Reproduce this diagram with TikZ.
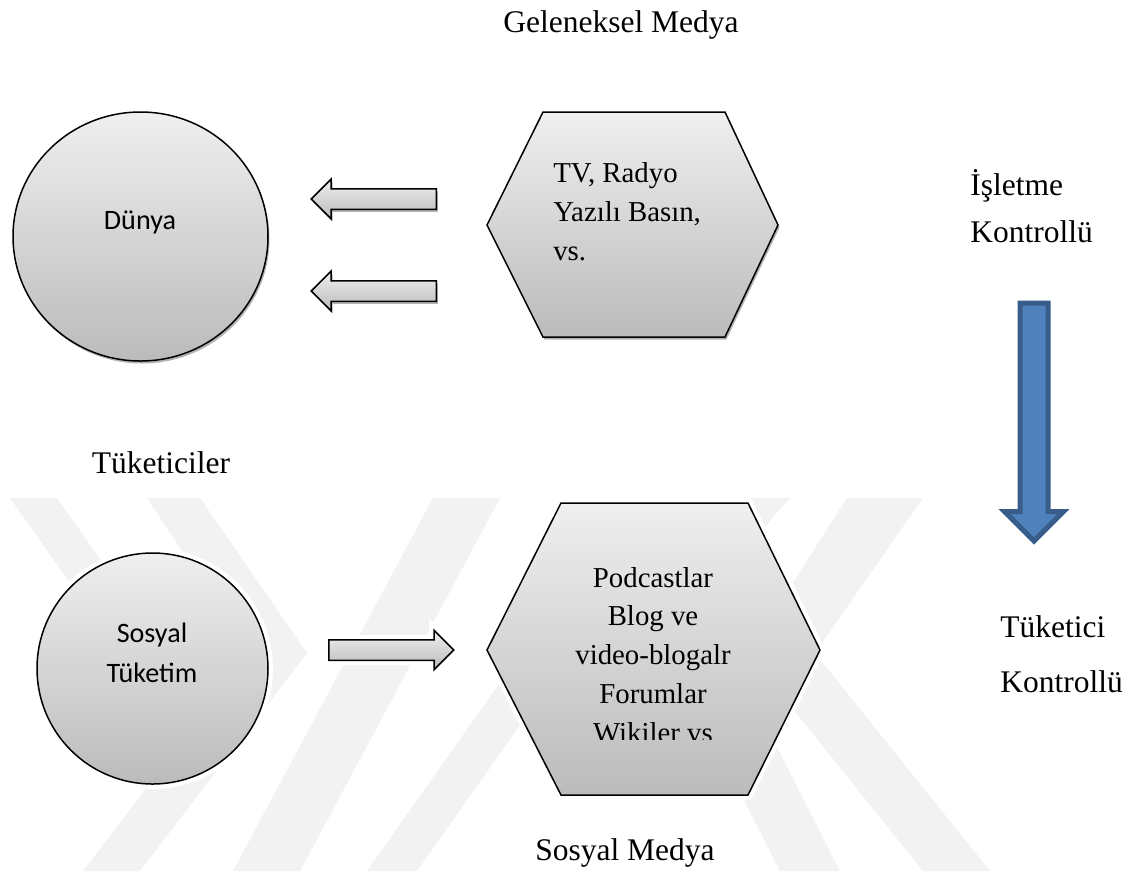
\documentclass[tikz,border=0pt]{standalone}
\usepackage{fontspec}
\setmainfont{Liberation Serif}
\newfontfamily\calibrifont{Carlito}
\usetikzlibrary{shapes.geometric,shapes.arrows,shadows}
\definecolor{shadeTop}{HTML}{EFEFEF}
\definecolor{shadeBot}{HTML}{BBBBBB}
\definecolor{msBlue}{HTML}{4F81BD}
\definecolor{msBlueDark}{HTML}{385D8A}
\newlength\px
\setlength\px{0.025cm}

\begin{document}
\begin{tikzpicture}[x=0.025cm,y=-0.025cm,
  gshade/.style={top color=shadeTop,bottom color=shadeBot},
  softshadow/.style={drop shadow={shadow xshift=1.5\px,shadow yshift=-2.5\px,opacity=0.3,fill=black}},
  halo/.style={preaction={draw=white,line width=10\px}},
  orb/.style={ellipse,draw,line width=1.5\px,gshade,softshadow,inner sep=0pt},
  hexa/.style={draw,line width=1.5\px,gshade,softshadow,line join=miter},
  grayarrow/.style={single arrow,draw,line width=1.5\px,gshade,softshadow,inner xsep=0pt,inner ysep=9.5\px,
    single arrow head extend=9.5\px,single arrow tip angle=90,single arrow head indent=0pt,minimum height=125\px,anchor=tail},
  bluearrow/.style={single arrow,draw=msBlueDark,fill=msBlue,line width=5\px,inner xsep=11.5\px,inner ysep=0pt,
    single arrow head extend=15.5\px,single arrow tip angle=90,single arrow head indent=0pt,minimum height=238\px,
    shape border rotate=270,anchor=tail},
  wm/.style={fill=black!5,draw=none},
  headtext/.style={font=\fontsize{22.4}{27}\selectfont,anchor=base,inner sep=0pt},
  sidetext/.style={font=\fontsize{22.4}{27}\selectfont,anchor=base west,inner sep=0pt},
  hextext/.style={font=\fontsize{20.5}{27.6}\selectfont,inner sep=0pt},
  orbtext/.style={font=\calibrifont\fontsize{20}{28.5}\selectfont,align=center,inner sep=0pt}]
  \useasboundingbox (0,0) rectangle (1138,871);

  % watermark
  \fill[wm] (147,498) -- (200,498) -- (307,653) -- (140,871) -- (83,871) -- (250,653) -- cycle;
  \fill[wm] (10,498) -- (57,498) -- (200,700) -- (153,700) -- cycle;
  \fill[wm] (433,498) -- (500,498) -- (300,871) -- (233,871) -- cycle;
  \fill[wm] (523,650) -- (573,650) -- (417,871) -- (367,871) -- cycle;
  \fill[wm] (590,498) -- (650,498) -- (840,871) -- (780,871) -- cycle;
  \fill[wm] (740,498) -- (790,498) -- (700,600) -- (650,600) -- cycle;
  \fill[wm] (847,498) -- (923,498) -- (815,653) -- (990,871) -- (923,871) -- (748,653) -- cycle;

  % geleneksel medya
  \node[headtext] (gelenek) at (621,32) {Geleneksel Medya};
  \node[orb,minimum width=255\px,minimum height=249\px] (dunya) at (140.5,236.5) {};
  \node[orbtext] (dunyatext) at (140,222) {Dünya};
  \node[grayarrow,shape border rotate=180] (okA) at (437,199) {};
  \node[grayarrow,shape border rotate=180] (okB) at (437,291) {};
  \draw[hexa] (487,225) -- (543,112) -- (725,112) -- (778,225) -- (725,337) -- (543,337) -- cycle;
  \node[hextext,align=left,anchor=west] (geltext) at (553,212) {TV, Radyo\\Yazılı Basın,\\vs.};

  % kontrol
  \node[sidetext] (isletme) at (970,195) {İşletme};
  \node[sidetext] (ikontrol) at (970,242) {Kontrollü};
  \node[bluearrow] (kontrolok) at (1034,300.5) {};
  \node[sidetext] (tuketici) at (1000,637) {Tüketici};
  \node[sidetext] (tkontrol) at (1000,692) {Kontrollü};

  % sosyal medya
  \node[headtext] (tuketiciler) at (161,473) {Tüketiciler};
  \node[orb,halo,minimum size=231\px] (sosyal) at (152.5,668.5) {};
  \node[orbtext] (sosyaltext) at (152,653) {Sosyal\\Tüketim};
  \node[grayarrow,halo] (okC) at (328,650) {};
  \draw[hexa,halo] (487,650) -- (561,503) -- (748,503) -- (820,650) -- (748,795) -- (561,795) -- cycle;
  \begin{scope}
    \clip (487,503) rectangle (820,739);
    \node[hextext,align=center] (sostext) at (653,655)
      {Podcastlar\\Blog ve\\video-blogalr\\Forumlar\\Wikiler vs};
  \end{scope}
  \node[headtext] (sosmedya) at (625,860) {Sosyal Medya};
\end{tikzpicture}
\end{document}
